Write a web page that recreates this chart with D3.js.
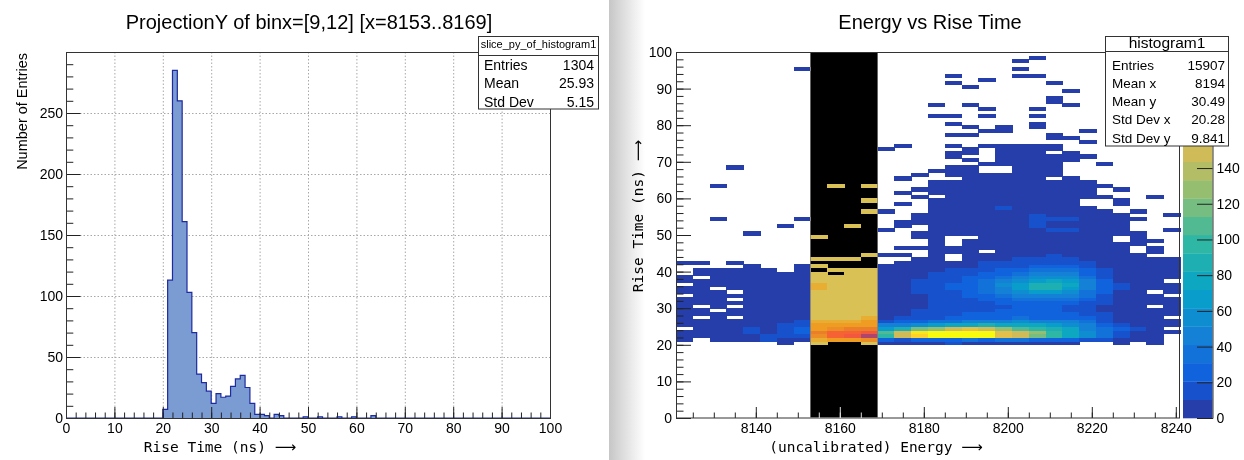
<!DOCTYPE html>
<html>
<head>
<meta charset="utf-8">
<script src="https://cdn.jsdelivr.net/npm/d3@7"></script>
<style>
  body { margin: 0; background: #fff; }
  svg text { font-family: "Liberation Sans", Arial, sans-serif; fill: #000; }
  svg text.mono { font-family: "DejaVu Sans Mono", monospace; }
  svg tspan.arrow { font-family: "DejaVu Sans", sans-serif; }
</style>
</head>
<body>
<svg id="chart" width="1244" height="460"></svg>
<script>
// ---------- left pad: ProjectionY (1 ns bins, 0..100) ----------
let projCounts = [
  0,0,0,0,0,0,0,0,0,0, 0,0,0,0,0,0,0,0,0,0,
  7,113,285,260,161,103,70,36,29,22,
  12,20,17,18,26,32,35,25,12,3,
  3,2,0,3,2,0,0,0,0,1,
  0,0,1,0,0,0,1,0,0,1,
  0,0,0,2,0,0,0,0,0,0,
  0,0,0,0,0,0,0,0,0,0, 0,0,0,0,0,0,0,0,0,0, 0,0,0,0,0,0,0,0,0,0
]
let leftTitle = "ProjectionY of binx=[9,12] [x=8153..8169]"
let leftXTicks = [0, 10, 20, 30, 40, 50, 60, 70, 80, 90, 100]
let leftYTicks = [0, 50, 100, 150, 200, 250]
let leftStatsName = "slice_py_of_histogram1"
let leftStatsLabels = ["Entries", "Mean", "Std Dev"]
let leftStatsValues = ["1304", "25.93", "5.15"]

// ---------- right pad: Energy vs Rise Time (30 x 100 bins) ----------
let energyLow = 8121
let energyBinWidth = 4
let nEnergyBins = 30
let denseRowStart = 20
// one row per rise-time bin (20..75), 30 energy bins each
let denseCounts = [
  [0,0,0,0,0,0,3,0, 3,0,0,4, 8,5,6,8,12,10,6,8,5,4,3,3,0,0,2,0,1,0],
  [4,0,4,5,6,14,9,8, 18,30,30,35, 22,18,25,30,30,35,30,40,35,28,22,25,18,14,8,5,3,0],
  [5,6,7,8,9,16,14,20, 40,65,75,105, 100,150,175,200,202,200,198,155,150,120,98,78,52,38,20,10,6,0],
  [6,7,7,8,13,9,15,24, 45,65,70,80, 108,145,185,196,199,200,196,160,152,125,95,75,55,35,18,8,5,3],
  [0,6,7,8,14,9,16,22, 30,40,45,46, 70,90,115,130,150,155,150,125,110,100,85,75,50,38,22,12,6,0],
  [5,6,6,7,8,9,13,16, 22,25,26,30, 42,48,58,70,75,78,82,80,78,72,62,55,42,30,18,10,5,2],
  [5,5,6,6,7,8,9,12, 15,16,17,22, 20,26,30,35,36,42,44,48,55,46,48,42,32,20,10,7,4,3],
  [4,0,5,0,6,7,8,9, 8,8,8,12, 10,14,18,20,22,25,28,30,32,30,30,28,22,14,8,5,3,0],
  [3,4,5,5,6,7,8,8, 7,7,7,8, 8,10,14,16,18,22,22,25,26,26,28,24,18,12,7,5,3,2],
  [4,4,0,5,5,6,7,8, 5,6,5,6, 7,9,12,14,16,18,20,22,24,24,24,20,15,10,6,4,2,2],
  [3,0,4,0,6,6,7,8, 3,3,3,3, 6,8,10,12,14,16,18,20,22,22,22,18,13,9,5,3,0,2],
  [3,4,4,4,5,6,7,7, 5,5,5,5, 6,8,10,12,14,18,20,24,26,28,28,24,18,12,6,4,3,2],
  [2,3,3,0,4,6,6,7, 4,4,5,4, 5,7,9,12,15,20,24,30,34,36,36,32,24,14,7,4,2,2],
  [0,2,4,4,5,6,6,7, 4,5,4,5, 5,7,10,13,18,24,30,38,44,50,48,42,32,18,8,5,3,0],
  [3,3,4,0,5,5,6,7, 6,7,6,7, 5,7,11,14,20,28,36,46,58,66,64,56,40,22,10,5,0,2],
  [2,3,0,4,5,6,6,6, 11,7,7,7, 6,8,12,15,22,30,40,50,64,92,88,70,45,25,11,6,3,2],
  [0,3,4,4,5,5,5,6, 12,8,7,8, 6,8,12,16,22,30,40,52,65,82,85,72,46,26,12,6,3,2],
  [3,2,4,3,4,5,5,6, 6,6,6,7, 5,7,11,14,20,28,36,46,58,70,75,66,42,22,10,5,3,0],
  [2,0,3,4,3,4,4,5, 3,3,3,3, 5,6,10,13,17,24,30,38,48,55,60,55,36,20,9,5,2,2],
  [0,1,3,3,3,3,2,4, 1,0,1,1, 4,5,8,11,14,18,24,30,36,44,46,44,30,16,8,4,2,2],
  [0,2,3,2,3,2,0,4, 0,1,1,1, 3,4,6,8,11,14,18,22,26,32,34,32,22,13,6,3,2,2],
  [0,0,0,0,2,0,0,3, 2,0,0,0, 2,3,5,6,8,10,13,16,20,24,25,24,16,10,5,3,2,1],
  [3,2,0,2,0,0,0,0, 0,0,0,0, 0,2,4,5,6,8,11,13,15,18,20,18,13,8,4,2,1,1],
  [0,0,0,0,0,0,0,0, 1,1,1,0, 0,0,3,3,0,6,8,10,12,14,15,14,10,7,3,2,1,1],
  [0,0,0,0,0,0,0,0, 0,0,0,2, 2,2,0,2,0,5,6,8,9,10,11,10,8,5,3,2,0,0],
  [0,0,0,0,0,0,0,0, 0,0,0,0, 0,0,0,2,3,4,0,6,7,8,8,7,6,4,2,0,1,0],
  [0,0,0,0,0,0,0,0, 0,0,0,0, 0,2,2,2,3,3,4,5,6,6,6,5,4,3,2,0,1,0],
  [0,0,0,0,0,0,0,0, 0,0,0,0, 0,0,0,2,0,3,3,4,5,5,5,4,3,2,2,1,0,0],
  [0,0,0,0,0,0,0,0, 0,0,0,0, 0,0,0,1,0,2,3,3,4,4,4,3,3,2,0,1,1,0],
  [0,0,0,0,0,0,0,0, 1,0,0,0, 0,0,1,1,0,0,2,3,3,3,4,3,3,2,0,1,0,0],
  [0,0,0,0,1,0,0,0, 0,0,0,0, 0,0,1,2,2,3,3,3,4,4,3,3,3,2,2,1,0,0],
  [0,0,0,0,0,0,0,0, 0,0,0,0, 1,0,0,1,2,2,3,3,3,4,11,11,2,2,1,0,0,1],
  [0,0,0,0,0,0,1,0, 0,0,1,0, 0,1,0,2,2,2,3,3,3,11,4,3,2,2,1,0,0,0],
  [0,0,0,0,0,0,0,0, 0,0,0,0, 0,1,1,1,2,2,3,3,3,11,3,3,2,1,1,0,0,0],
  [0,0,1,0,0,0,0,1, 0,0,0,0, 0,0,1,1,2,2,2,3,3,11,11,11,2,2,1,1,0,0],
  [0,0,0,0,0,0,0,0, 0,0,0,0, 0,0,1,2,1,2,2,3,3,11,3,2,2,1,1,0,0,1],
  [0,0,0,0,0,0,0,0, 0,0,0,1, 1,0,0,1,2,2,2,2,3,3,3,2,2,1,0,1,0,0],
  [0,0,0,0,0,0,0,0, 0,0,0,0, 0,0,0,1,1,2,2,11,2,3,2,2,1,0,0,0,0,0],
  [0,0,0,0,0,0,0,0, 0,0,0,0, 0,1,0,1,2,2,2,2,2,2,2,1,0,0,1,0,0,0],
  [0,0,0,0,0,0,0,0, 0,0,0,1, 0,0,0,1,1,2,2,2,2,2,2,1,0,0,1,0,0,0],
  [0,0,0,0,0,0,0,0, 0,0,0,0, 0,0,1,0,1,1,2,2,2,2,2,2,1,1,0,0,1,0],
  [0,0,0,0,0,0,0,0, 0,0,0,0, 0,1,0,1,1,1,2,1,2,2,2,1,1,0,0,0,0,0],
  [0,0,0,0,0,0,0,0, 0,0,0,0, 0,0,1,1,1,1,1,2,1,1,2,1,1,0,1,0,0,0],
  [0,0,1,0,0,0,0,0, 0,1,0,1, 0,0,0,1,1,1,1,1,2,1,1,1,1,1,0,0,0,0],
  [0,0,0,0,0,0,0,0, 0,0,0,0, 0,0,0,1,1,1,1,1,1,1,1,1,1,0,0,0,0,0],
  [0,0,0,0,0,0,0,0, 0,0,0,0, 0,1,0,0,0,1,1,1,1,1,0,1,0,0,0,0,0,0],
  [0,0,0,0,0,0,0,0, 0,0,0,0, 0,0,1,0,1,1,1,1,1,1,1,0,0,0,0,0,0,0],
  [0,0,0,0,0,0,0,0, 0,0,0,0, 0,0,0,1,1,1,0,0,1,1,1,0,0,0,0,0,0,0],
  [0,0,0,1,0,0,0,0, 0,0,0,0, 0,0,0,0,1,1,0,0,1,1,1,0,0,0,0,0,0,0],
  [0,0,0,0,0,0,0,0, 0,0,0,0, 0,0,0,0,0,0,1,1,1,1,1,0,0,1,0,0,0,0],
  [0,0,0,0,0,0,0,0, 0,0,0,0, 0,0,0,0,0,1,0,1,1,1,1,1,0,0,0,0,0,0],
  [0,0,0,0,0,0,0,0, 0,0,0,0, 0,0,0,0,1,0,0,1,1,1,1,1,1,0,0,0,0,0],
  [0,0,0,0,0,0,0,0, 0,0,0,0, 0,0,0,0,1,1,0,1,1,1,0,1,0,0,0,0,0,0],
  [0,0,0,0,0,0,0,0, 0,0,0,0, 1,0,0,0,0,1,0,1,1,1,1,0,0,0,0,0,0,0],
  [0,0,0,0,0,0,0,0, 0,0,0,0, 0,1,0,0,1,0,1,1,1,1,1,0,0,0,0,0,0,0],
  [0,0,0,0,0,0,0,0, 0,0,0,0, 0,0,0,0,0,0,0,0,0,0,0,0,1,0,0,0,0,0]
]
// isolated cells above row 75: [energy bin, rise-time bin, count]
let sparseCells = [
  [7,95,1],[20,97,1],[21,98,1],[20,95,1],[20,93,1],[21,93,1],[16,93,1],[18,92,1],
  [16,91,1],[22,91,1],[17,90,1],[23,89,1],[22,87,1],[22,86,1],[23,85,1],[15,85,1],
  [17,85,1],[18,84,1],[21,84,1],[15,82,1],[16,82,1],[18,82,1],[21,82,1],[16,80,1],
  [21,80,1],[17,79,1],[19,79,1],[21,79,1],[18,78,1],[19,78,1],[24,78,1],[16,77,1],
  [17,77,1],[22,77,1],[22,76,1],[23,76,1]
]
let bandRange = [8153, 8169]
let zMax = 205
let rightTitle = "Energy vs Rise Time"
let rightXTicks = [8140, 8160, 8180, 8200, 8220, 8240]
let rightYTicks = [0, 10, 20, 30, 40, 50, 60, 70, 80, 90, 100]
let zTicks = [0, 20, 40, 60, 80, 100, 120, 140, 160, 180, 200]
let rightStatsName = "histogram1"
let rightStatsLabels = ["Entries", "Mean x", "Mean y", "Std Dev x", "Std Dev y"]
let rightStatsValues = ["15907", "8194", "30.49", "20.28", "9.841"]

// ROOT kBird palette, 20 contour levels
let birdStops = [0, 0.125, 0.25, 0.375, 0.5, 0.625, 0.75, 0.875, 1]
let birdR = [0.2082, 0.0592, 0.0780, 0.0232, 0.1802, 0.5301, 0.8186, 0.9956, 0.9764]
let birdG = [0.1664, 0.3599, 0.5041, 0.6419, 0.7178, 0.7492, 0.7328, 0.7862, 0.9832]
let birdB = [0.5293, 0.8684, 0.8385, 0.7914, 0.6425, 0.4662, 0.3499, 0.1968, 0.0539]
let birdRs = d3.scaleLinear().domain(birdStops).range(birdR)
let birdGs = d3.scaleLinear().domain(birdStops).range(birdG)
let birdBs = d3.scaleLinear().domain(birdStops).range(birdB)
let nLevels = 20
function levelColor(k) {
    let t = Math.min(1, (k + 0.99) / nLevels)
    return d3.rgb(birdRs(t) * 255, birdGs(t) * 255, birdBs(t) * 255).toString()
}
function cellColor(v) {
    let k = Math.min(nLevels - 1, Math.floor(v / (zMax / nLevels)))
    return levelColor(k)
}

let svg = d3.select("#chart")
svg.append("rect").attr("width", 1244).attr("height", 460).attr("fill", "#fff")

// divider shadow between the two pads
let defs = svg.append("defs")
let grad = defs.append("linearGradient").attr("id", "padShadow")
grad.append("stop").attr("offset", "0").attr("stop-color", "#c6c6c6")
grad.append("stop").attr("offset", "0.3").attr("stop-color", "#d8d8d8")
grad.append("stop").attr("offset", "1").attr("stop-color", "#ffffff")
svg.append("rect").attr("x", 609).attr("y", 0).attr("width", 36).attr("height", 460)
    .attr("fill", "url(#padShadow)")
defs.append("clipPath").attr("id", "zLabelClip")
    .append("rect").attr("x", 1229).attr("y", 0).attr("width", 20).attr("height", 460)

// ================= LEFT PAD =================
let xL = d3.scaleLinear().domain([0, 100]).range([66, 550])
let yL = d3.scaleLinear().domain([0, 300]).range([418, 52])
let left = svg.append("g")

// grid
left.append("g").selectAll("line").data(leftXTicks.slice(1, -1)).enter().append("line")
    .attr("x1", d => xL(d) + 0.5).attr("x2", d => xL(d) + 0.5)
    .attr("y1", yL(300)).attr("y2", yL(0))
    .attr("stroke", "#a8a8a8").attr("stroke-dasharray", "1.5,2")
left.append("g").selectAll("line").data(leftYTicks.slice(1)).enter().append("line")
    .attr("x1", xL(0)).attr("x2", xL(100))
    .attr("y1", d => Math.round(yL(d)) + 0.5).attr("y2", d => Math.round(yL(d)) + 0.5)
    .attr("stroke", "#a8a8a8").attr("stroke-dasharray", "1.5,2")

// histogram
let stepPts = projCounts.flatMap((v, i) => [[i, v], [i + 1, v]])
left.append("path")
    .datum(stepPts)
    .attr("d", d3.area().x(d => xL(d[0])).y0(yL(0)).y1(d => yL(d[1])))
    .attr("fill", "#7b9bd3")
left.append("path")
    .datum(stepPts)
    .attr("d", d3.line().x(d => xL(d[0])).y(d => yL(d[1])))
    .attr("fill", "none").attr("stroke", "#1d2b9e").attr("stroke-width", 1.2)

// axes (ROOT style ticks point inside)
left.append("g").attr("transform", "translate(0," + yL(0) + ")")
    .call(d3.axisBottom(xL).tickValues(d3.range(0, 101, 2)).tickSize(-5.5).tickFormat(""))
left.append("g").attr("transform", "translate(0," + yL(0) + ")")
    .call(d3.axisBottom(xL).tickValues(leftXTicks).tickSize(-11).tickPadding(5))
left.append("g").attr("transform", "translate(" + xL(0) + ",0)")
    .call(d3.axisLeft(yL).tickValues(d3.range(0, 291, 10)).tickSize(-7.3).tickFormat(""))
left.append("g").attr("transform", "translate(" + xL(0) + ",0)")
    .call(d3.axisLeft(yL).tickValues(leftYTicks).tickSize(-14.5).tickPadding(3))
left.selectAll(".domain").remove()
left.selectAll(".tick line").attr("stroke", "#222")
left.selectAll(".tick text").style("font-size", "14px").attr("fill", "#000")

left.append("rect").attr("x", xL(0) + 0.5).attr("y", yL(300) + 0.5)
    .attr("width", xL(100) - xL(0)).attr("height", yL(0) - yL(300))
    .attr("fill", "none").attr("stroke", "#333")

left.append("text").attr("x", 309).attr("y", 29).attr("text-anchor", "middle")
    .style("font-size", "20px").text(leftTitle)
left.append("text").attr("transform", "translate(27,53) rotate(-90)")
    .attr("text-anchor", "end").style("font-size", "14.5px").text("Number of Entries")
let lxt = left.append("text").attr("class", "mono").attr("x", 220).attr("y", 452)
    .attr("text-anchor", "middle").style("font-size", "14.5px")
lxt.append("tspan").text("Rise Time (ns) ")
lxt.append("tspan").attr("class", "arrow").style("font-size", "15px").text("\u27F6")

// stats box
let ls = left.append("g")
ls.append("rect").attr("x", 478.5).attr("y", 36.5).attr("width", 120).attr("height", 72.5)
    .attr("fill", "#fff").attr("stroke", "#333")
ls.append("line").attr("x1", 478.5).attr("x2", 598.5).attr("y1", 55.5).attr("y2", 55.5).attr("stroke", "#333")
ls.append("text").attr("x", 538.5).attr("y", 48).attr("text-anchor", "middle")
    .style("font-size", "11px").text(leftStatsName)
leftStatsLabels.forEach((t, i) => {
    ls.append("text").attr("x", 484).attr("y", 70 + i * 18.3).style("font-size", "14px").text(t)
    ls.append("text").attr("x", 594).attr("y", 70 + i * 18.3).attr("text-anchor", "end")
        .style("font-size", "14px").text(leftStatsValues[i])
})

// ================= RIGHT PAD =================
let xR = d3.scaleLinear().domain([energyLow, energyLow + energyBinWidth * nEnergyBins]).range([676, 1180])
let yR = d3.scaleLinear().domain([0, 100]).range([418, 52])
let zS = d3.scaleLinear().domain([0, zMax]).range([418, 52])
let right = svg.append("g")

let cells = []
denseCounts.forEach((row, i) => {
    row.forEach((v, c) => { if (v > 0) cells.push([c, denseRowStart + i, v]) })
})
sparseCells.forEach(d => cells.push(d))

right.append("g").attr("shape-rendering", "crispEdges")
    .selectAll("rect").data(cells).enter().append("rect")
    .attr("x", d => xR(energyLow + d[0] * energyBinWidth))
    .attr("y", d => yR(d[1] + 1))
    .attr("width", d => xR(energyLow + (d[0] + 1) * energyBinWidth) - xR(energyLow + d[0] * energyBinWidth) + 0.5)
    .attr("height", d => yR(d[1]) - yR(d[1] + 1) + 0.5)
    .attr("fill", d => cellColor(d[2]))

right.append("g").attr("transform", "translate(0," + yR(0) + ")")
    .call(d3.axisBottom(xR).tickValues(d3.range(8125, 8241, 5)).tickSize(-5.5).tickFormat(""))
right.append("g").attr("transform", "translate(0," + yR(0) + ")")
    .call(d3.axisBottom(xR).tickValues(rightXTicks).tickSize(-11).tickPadding(5).tickFormat(d3.format("d")))
right.append("g").attr("transform", "translate(" + xR(energyLow) + ",0)")
    .call(d3.axisLeft(yR).tickValues(d3.range(0, 101, 2)).tickSize(-7.5).tickFormat(""))
right.append("g").attr("transform", "translate(" + xR(energyLow) + ",0)")
    .call(d3.axisLeft(yR).tickValues(rightYTicks).tickSize(-15).tickPadding(4))
right.selectAll(".domain").remove()
right.selectAll(".tick line").attr("stroke", "#222")
right.selectAll(".tick text").style("font-size", "14px").attr("fill", "#000")

right.append("rect").attr("x", 676.5).attr("y", 52.5)
    .attr("width", 503).attr("height", 365.5)
    .attr("fill", "none").attr("stroke", "#333")

// highlighted projection band (inverted colours)
right.append("rect")
    .attr("x", xR(bandRange[0])).attr("y", 53)
    .attr("width", xR(bandRange[1]) - xR(bandRange[0])).attr("height", 365)
    .attr("fill", "#fff").style("mix-blend-mode", "difference")

// colour palette
let pal = right.append("g")
d3.range(nLevels).forEach(k => {
    pal.append("rect").attr("x", 1183).attr("width", 29.5)
        .attr("y", zS((k + 1) * zMax / nLevels)).attr("height", zS(0) - zS(zMax / nLevels) + 0.3)
        .attr("fill", levelColor(k))
})
let zAxis = pal.append("g").attr("transform", "translate(1212.5,0)")
    .call(d3.axisRight(zS).tickValues(zTicks).tickSize(-15.5).tickPadding(4))
zAxis.select(".domain").attr("stroke", "#333")
zAxis.selectAll(".tick line").attr("stroke", "#222")
zAxis.selectAll(".tick text").style("font-size", "14px").attr("fill", "#000")
// labels that sit under the stats box only show their tail
zAxis.selectAll(".tick text").filter(d => d > 150).attr("clip-path", "url(#zLabelClip)")

right.append("text").attr("x", 930).attr("y", 29).attr("text-anchor", "middle")
    .style("font-size", "20px").text(rightTitle)
let ryt = right.append("text").attr("class", "mono").attr("transform", "translate(643,216) rotate(-90)")
    .attr("text-anchor", "middle").style("font-size", "14.5px")
ryt.append("tspan").text("Rise Time (ns) ")
ryt.append("tspan").attr("class", "arrow").style("font-size", "15px").text("\u27F6")
let rxt = right.append("text").attr("class", "mono").attr("x", 876).attr("y", 452)
    .attr("text-anchor", "middle").style("font-size", "14.5px")
rxt.append("tspan").text("(uncalibrated) Energy ")
rxt.append("tspan").attr("class", "arrow").style("font-size", "15px").text("\u27F6")

// stats box
let rs = right.append("g")
rs.append("rect").attr("x", 1105.5).attr("y", 36.5).attr("width", 123).attr("height", 109.5)
    .attr("fill", "#fff").attr("stroke", "#333")
rs.append("line").attr("x1", 1105.5).attr("x2", 1228.5).attr("y1", 51.5).attr("y2", 51.5).attr("stroke", "#333")
rs.append("text").attr("x", 1167).attr("y", 48).attr("text-anchor", "middle")
    .style("font-size", "15.5px").text(rightStatsName)
rightStatsLabels.forEach((t, i) => {
    rs.append("text").attr("x", 1112).attr("y", 69.5 + i * 18.3).style("font-size", "13.5px").text(t)
    rs.append("text").attr("x", 1225).attr("y", 69.5 + i * 18.3).attr("text-anchor", "end")
        .style("font-size", "13.5px").text(rightStatsValues[i])
})
</script>
</body>
</html>
